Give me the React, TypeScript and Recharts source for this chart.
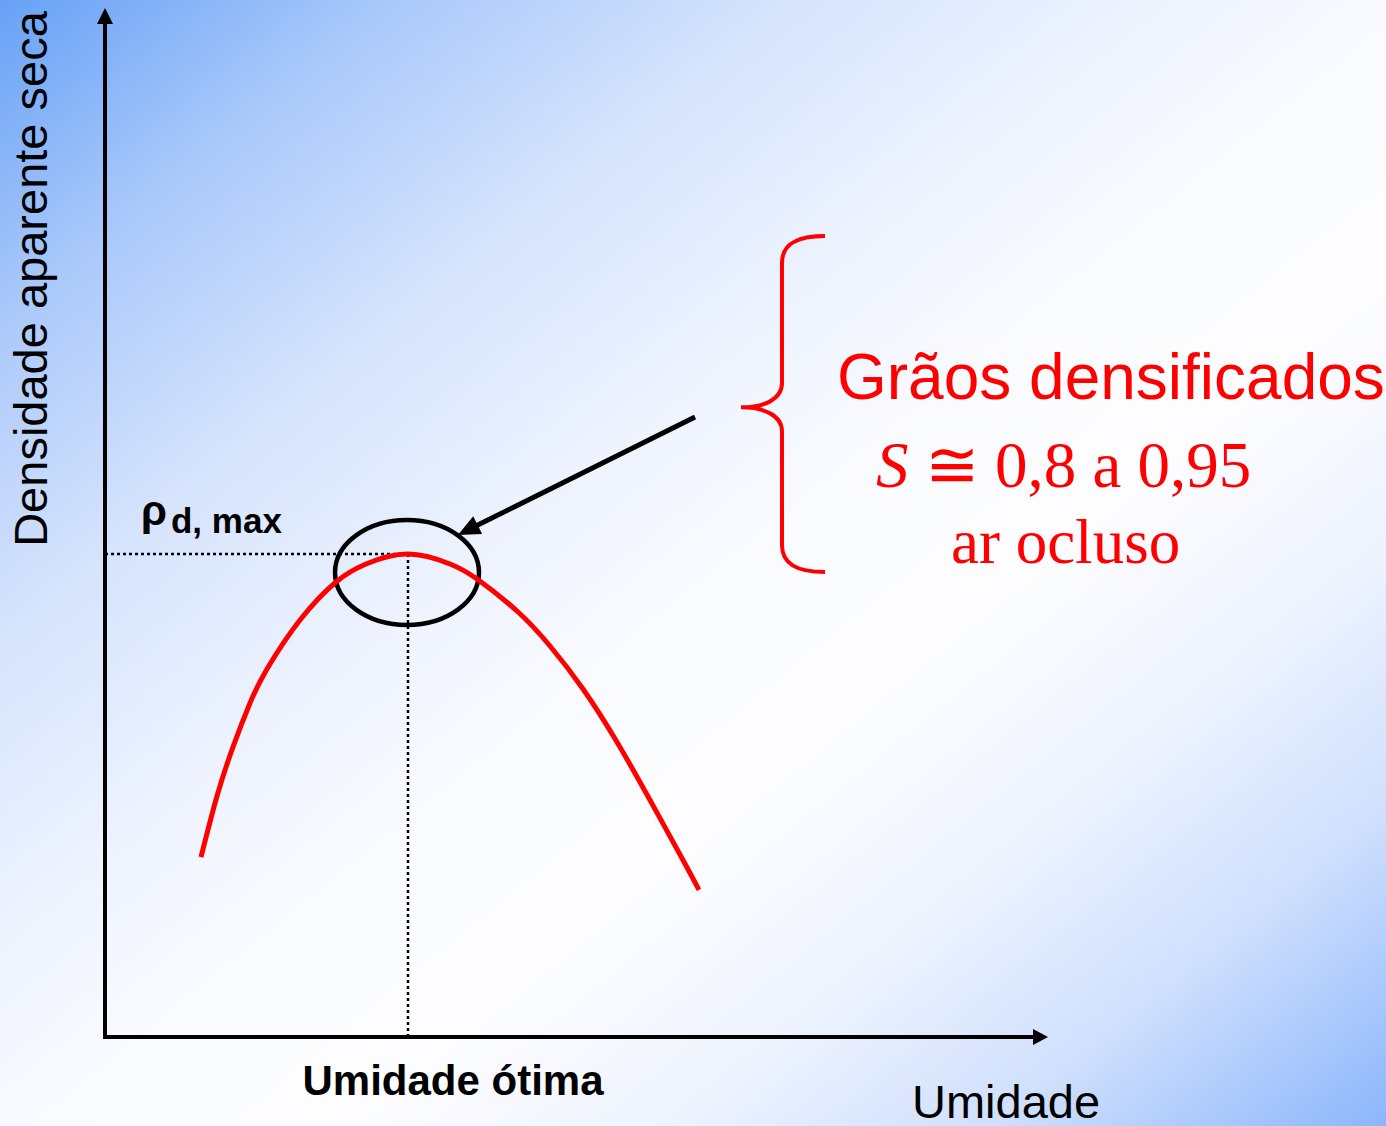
import React from 'react';
import { ComposedChart, Line, XAxis, YAxis, ReferenceLine, ReferenceArea } from 'recharts';

const CHART_W = 1386;
const CHART_H = 1126;
const SANS = '"Liberation Sans", Arial, sans-serif';
const SERIF = '"Liberation Serif", "Times New Roman", serif';
const RED = '#ff0000';

// Compaction curve (abstract units, 0–100 on both axes)
const moisture = [10.18, 11.88, 13.57, 15.38, 17.18, 20.68, 24.5, 27.68, 32.13, 36.59, 39.45, 43.69, 47.19, 50.69, 54.29, 57.79, 61.29, 62.99];
const dryDensity = [17.49, 23.42, 28.18, 32.46, 35.76, 40.52, 44.22, 45.97, 46.94, 45.97, 44.51, 41.4, 38.0, 33.82, 28.67, 23.03, 17.2, 14.29];

// Optimum point
const optMoisture = 32.13;
const maxDensity = 46.94;

// Annotation geometry (data units)
const ellipseX = [24.39, 39.66];
const ellipseY = [40.04, 50.24];
const arrowFrom = { x: 62.57, y: 60.25 };
const arrowTo = { x: 37.43, y: 48.79 };
const braceX = 71.79;
const braceY = [77.84, 45.19];

// Texts
const xTitle = 'Umidade';
const yTitle = 'Densidade aparente seca';
const optLabel = 'Umidade ótima';
const rhoMain = 'ρ';
const rhoSub = 'd, max';
const noteLines = ['Grãos densificados', '0,8 a 0,95', 'ar ocluso'];

const data = moisture.map((m, i) => ({ m, d: dryDensity[i] }));

const arrowPath = (x1: number, y1: number, x2: number, y2: number, lineW: number, headLen: number, headHalf: number, tail: number) => {
  const ang = Math.atan2(y2 - y1, x2 - x1);
  const c = Math.cos(ang);
  const s = Math.sin(ang);
  const bx = x2 - headLen * c;
  const by = y2 - headLen * s;
  const px = -s * headHalf;
  const py = c * headHalf;
  return (
    <g>
      <line x1={x1 - tail * c} y1={y1 - tail * s} x2={bx + c} y2={by + s} stroke="#000" strokeWidth={lineW} />
      <polygon points={`${x2},${y2} ${bx + px},${by + py} ${bx - px},${by - py}`} fill="#000" />
    </g>
  );
};

const yAxisArrow = (props: any) => {
  const { x1, y1, x2, y2 } = props;
  const top = Math.min(y1, y2);
  const cx = x1 - 58;
  const cy = top + 271;
  return (
    <g>
      {arrowPath(x1, y1, x2, y2, 4, 16, 8, 2)}
      <text x={cx} y={cy} transform={`rotate(-90, ${cx}, ${cy})`} textAnchor="middle" fontFamily={SANS} fontSize={47} fill="#000">
        {yTitle}
      </text>
    </g>
  );
};

const xAxisArrow = (props: any) => {
  const { x1, y1, x2, y2 } = props;
  return (
    <g>
      {arrowPath(x1, y1, x2, y2, 4, 15, 8, 2)}
      <text x={x1 + 807} y={y1 + 81} fontFamily={SANS} fontSize={47} fill="#000">
        {xTitle}
      </text>
    </g>
  );
};

const pointerArrow = (props: any) => {
  const { x1, y1, x2, y2 } = props;
  return arrowPath(x1, y1, x2, y2, 5, 22, 10, 0);
};

const dottedH = (props: any) => {
  const { x1, y1, x2, y2 } = props;
  return (
    <g>
      <line x1={x1} y1={y1} x2={x2} y2={y2} stroke="#000" strokeWidth={2.5} strokeDasharray="3 3" />
      <text x={x1 + 36} y={y1 - 29} fontFamily={SANS} fontWeight="bold" fill="#000">
        <tspan fontSize={42}>{rhoMain}</tspan>
        <tspan fontSize={35} dx={4} dy={8}>{rhoSub}</tspan>
      </text>
    </g>
  );
};

const dottedV = (props: any) => {
  const { x1, y1, x2, y2 } = props;
  const bottom = Math.max(y1, y2);
  return (
    <g>
      <line x1={x1} y1={y1} x2={x2} y2={y2} stroke="#000" strokeWidth={2.5} strokeDasharray="3 3" />
      <text x={x1 + 45} y={bottom + 58} textAnchor="middle" fontFamily={SANS} fontWeight="bold" fontSize={42} fill="#000">
        {optLabel}
      </text>
    </g>
  );
};

const ellipseShape = (props: any) => {
  const { x, y, width, height } = props;
  return (
    <ellipse cx={x + width / 2} cy={y + height / 2} rx={width / 2} ry={height / 2} fill="none" stroke="#000" strokeWidth={4.5} />
  );
};

const braceShape = (props: any) => {
  const { x1, y1, y2 } = props;
  const top = Math.min(y1, y2);
  const bot = Math.max(y1, y2);
  const x = x1;
  const cusp = top + 0.51 * (bot - top);
  const tip = x - 41;
  const end = x + 43;
  const d = `M ${end} ${top} C ${x + 15} ${top}, ${x} ${top + 8}, ${x} ${top + 27} L ${x} ${cusp - 24} C ${x} ${cusp - 8}, ${x - 18} ${cusp}, ${tip} ${cusp} C ${x - 18} ${cusp}, ${x} ${cusp + 8}, ${x} ${cusp + 24} L ${x} ${bot - 27} C ${x} ${bot - 8}, ${x + 15} ${bot}, ${end} ${bot}`;
  return (
    <g>
      <path d={d} fill="none" stroke={RED} strokeWidth={4} />
      <text x={x + 55} y={cusp - 8} fontFamily={SANS} fontSize={64} fill={RED}>{noteLines[0]}</text>
      <text x={x + 94} y={cusp + 80} fontFamily={SERIF} fontSize={65} fill={RED}>
        <tspan fontStyle="italic">S</tspan>
        <tspan> ≅ </tspan>
        <tspan>{noteLines[1]}</tspan>
      </text>
      <text x={x + 169} y={cusp + 156} fontFamily={SERIF} fontSize={63} fill={RED}>{noteLines[2]}</text>
    </g>
  );
};

export default function App() {
  return (
    <div
      style={{
        position: 'absolute',
        left: 0,
        top: 0,
        width: CHART_W,
        height: CHART_H,
        overflow: 'hidden',
        background:
          'linear-gradient(to bottom right, #67a1f6 0%, #a9c8fa 14%, #d5e3fc 28%, #eef3fe 42%, #fafbff 52%, #fdfdff 62%, #eef3fe 74%, #cfdffd 86%, #8cb6fb 100%)',
      }}
    >
      <ComposedChart
        width={CHART_W}
        height={CHART_H}
        data={data}
        margin={{ top: 8, right: 338, bottom: 89, left: 105 }}
      >
        <XAxis type="number" dataKey="m" domain={[0, 100]} height={0} tick={false} tickLine={false} axisLine={false} />
        <YAxis type="number" domain={[0, 100]} width={0} tick={false} tickLine={false} axisLine={false} />
        <ReferenceLine segment={[{ x: 0, y: 0 }, { x: 0, y: 100 }]} ifOverflow="visible" shape={yAxisArrow} />
        <ReferenceLine segment={[{ x: 0, y: 0 }, { x: 100, y: 0 }]} ifOverflow="visible" shape={xAxisArrow} />
        <ReferenceLine
          segment={[{ x: 0, y: maxDensity }, { x: optMoisture, y: maxDensity }]}
          ifOverflow="visible"
          shape={dottedH}
        />
        <ReferenceLine
          segment={[{ x: optMoisture, y: maxDensity }, { x: optMoisture, y: 0 }]}
          ifOverflow="visible"
          shape={dottedV}
        />
        <Line
          type="natural"
          dataKey="d"
          stroke={RED}
          strokeWidth={5}
          dot={false}
          activeDot={false}
          isAnimationActive={false}
        />
        <ReferenceArea
          x1={ellipseX[0]}
          x2={ellipseX[1]}
          y1={ellipseY[0]}
          y2={ellipseY[1]}
          ifOverflow="visible"
          shape={ellipseShape}
        />
        <ReferenceLine segment={[arrowFrom, arrowTo]} ifOverflow="visible" shape={pointerArrow} />
        <ReferenceLine
          segment={[{ x: braceX, y: braceY[0] }, { x: braceX, y: braceY[1] }]}
          ifOverflow="visible"
          shape={braceShape}
        />
      </ComposedChart>
    </div>
  );
}
